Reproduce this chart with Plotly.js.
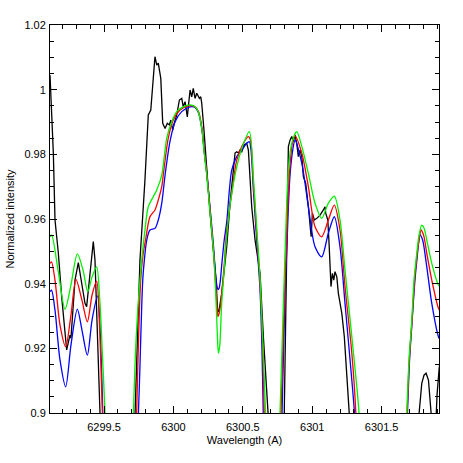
<!DOCTYPE html>
<html>
<head>
<meta charset="utf-8">
<script src="https://cdn.plot.ly/plotly-3.0.1.min.js"></script>
<style>
  html, body { margin: 0; padding: 0; background: white; }
  #spectrum { width: 463px; height: 463px; }
</style>
</head>
<body>
<div id="spectrum"></div>
<script>
// Observed spectrum (black), null = break where it leaves the plot
let obsWave = [
6299.111, 6299.118, 6299.130, 6299.135, 6299.147, 6299.171, 6299.195, 6299.219, 6299.231, 6299.255,
6299.262, 6299.291, 6299.315, 6299.363, 6299.375, 6299.423, 6299.435, 6299.474, null,
6299.721, 6299.759, 6299.795, 6299.819, 6299.837, 6299.851, 6299.867, 6299.880, 6299.891, 6299.909,
6299.923, 6299.940, 6299.956, 6299.971, 6299.981, 6299.995, 6300.004, 6300.024, 6300.043, 6300.060,
6300.071, 6300.084, 6300.100, 6300.120, 6300.132, 6300.143, 6300.156, 6300.168, 6300.187, 6300.197,
6300.204, 6300.221, 6300.235, 6300.246, 6300.264, 6300.288, 6300.307, 6300.319, 6300.329, 6300.348,
6300.384, 6300.408, 6300.444, 6300.456, 6300.468, 6300.480, 6300.492, 6300.509, 6300.528, 6300.540,
6300.552, 6300.564, 6300.588, 6300.612, 6300.624, 6300.648, 6300.672, 6300.687, null,
6300.797, 6300.811, 6300.828, 6300.840, 6300.852, 6300.864, 6300.876, 6300.888, 6300.900, 6300.912,
6300.925, 6300.936, 6300.953, 6300.972, 6300.984, 6300.992, 6301.001, 6301.015, 6301.033, 6301.056,
6301.080, 6301.092, 6301.097, 6301.112, 6301.121, 6301.135, 6301.145, 6301.155, 6301.164, 6301.177,
6301.188, 6301.213, 6301.231, 6301.249, 6301.260, 6301.272, null,
6301.762, 6301.789, 6301.805, 6301.820, 6301.837, 6301.849, 6301.863, null,
6301.890, 6301.899, 6301.913, 6301.925
];
let obsFlux = [
1.0045, 0.9959, 0.9875, 0.9804, 0.9597, 0.9495, 0.9360, 0.9236, 0.9195, 0.9241,
0.9231, 0.9411, 0.9465, 0.9339, 0.9329, 0.9530, 0.9473, 0.8963, null,
0.8963, 0.9473, 0.9721, 0.9922, 0.9937, 1.0014, 1.0102, 1.0076, 1.0082, 1.0035,
0.9896, 0.9880, 0.9896, 0.9891, 0.9906, 0.9875, 0.9893, 0.9922, 0.9968, 0.9973,
0.9947, 0.9963, 0.9916, 0.9999, 0.9978, 1.0004, 0.9973, 0.9989, 0.9973, 0.9978,
0.9958, 0.9870, 0.9798, 0.9721, 0.9619, 0.9514, 0.9411, 0.9312, 0.9318, 0.9370,
0.9514, 0.9649, 0.9804, 0.9808, 0.9804, 0.9813, 0.9808, 0.9829, 0.9834, 0.9813,
0.9731, 0.9638, 0.9535, 0.9473, 0.9432, 0.9236, 0.9081, 0.8963, null,
0.8963, 0.9349, 0.9824, 0.9844, 0.9855, 0.9839, 0.9860, 0.9834, 0.9793, 0.9813,
0.9793, 0.9731, 0.9710, 0.9638, 0.9576, 0.9545, 0.9618, 0.9597, 0.9602, 0.9612,
0.9628, 0.9638, 0.9618, 0.9597, 0.9525, 0.9391, 0.9432, 0.9411, 0.9437, 0.9421,
0.9370, 0.9308, 0.9236, 0.9133, 0.9061, 0.8963, null,
0.8963, 0.9092, 0.9117, 0.9123, 0.9102, 0.9040, 0.8963, null,
0.8963, 0.9056, 0.9133, 0.9180
];

// Synthetic spectrum, green
let greenWave = [
6299.111, 6299.123, 6299.169, 6299.219, 6299.262, 6299.308, 6299.349, 6299.383, 6299.414, 6299.447,
6299.471, 6299.488, 6299.507, 6299.511, null,
6299.709, 6299.731, 6299.759, 6299.795, 6299.819, 6299.855, 6299.880, 6299.916, 6299.952, 6299.988,
6300.024, 6300.071, 6300.120, 6300.156, 6300.179, 6300.204, 6300.221, 6300.240, 6300.264, 6300.288,
6300.304, 6300.315, 6300.324, 6300.334, 6300.347, 6300.360, 6300.384, 6300.408, 6300.451, 6300.494,
6300.547, 6300.576, 6300.600, 6300.624, 6300.643, 6300.664, 6300.667, null,
6300.765, 6300.782, 6300.804, 6300.828, 6300.852, 6300.888, 6300.925, 6300.972, 6301.020, 6301.068,
6301.116, 6301.159, 6301.200, 6301.236, 6301.285, 6301.321, 6301.337, 6301.340, null,
6301.678, 6301.697, 6301.717, 6301.733, 6301.753, 6301.769, 6301.789, 6301.805, 6301.825, 6301.861,
6301.909, 6301.921
];
let greenFlux = [
0.9545, 0.9550, 0.9442, 0.9321, 0.9396, 0.9492, 0.9442, 0.9375, 0.9421, 0.9452,
0.9339, 0.9185, 0.9004, 0.8947, null,
0.8963, 0.9226, 0.9411, 0.9566, 0.9638, 0.9669, 0.9690, 0.9736, 0.9850, 0.9901,
0.9932, 0.9947, 0.9953, 0.9947, 0.9932, 0.9880, 0.9808, 0.9736, 0.9619, 0.9504,
0.9380, 0.9257, 0.9185, 0.9210, 0.9334, 0.9411, 0.9550, 0.9643, 0.9751, 0.9820,
0.9870, 0.9727, 0.9572, 0.9417, 0.9226, 0.9000, 0.8963, null,
0.8963, 0.9195, 0.9495, 0.9751, 0.9834, 0.9870, 0.9824, 0.9741, 0.9649, 0.9602,
0.9649, 0.9671, 0.9597, 0.9442, 0.9236, 0.9081, 0.9000, 0.8963, null,
0.8963, 0.9164, 0.9288, 0.9411, 0.9494, 0.9550, 0.9581, 0.9572, 0.9535, 0.9463,
0.9396, 0.9390
];

// Synthetic spectrum, red
let redWave = [
6299.111, 6299.122, 6299.147, 6299.183, 6299.224, 6299.262, 6299.298, 6299.341, 6299.380, 6299.414,
6299.447, 6299.466, 6299.488, 6299.491, null,
6299.733, 6299.741, 6299.764, 6299.781, 6299.803, 6299.831, 6299.867, 6299.891, 6299.916, 6299.927,
6299.963, 6299.999, 6300.048, 6300.107, 6300.148, 6300.179, 6300.204, 6300.221, 6300.240, 6300.264,
6300.288, 6300.304, 6300.315, 6300.321, 6300.330, 6300.339, 6300.350, 6300.366, 6300.384, 6300.420,
6300.456, 6300.494, 6300.540, 6300.555, 6300.576, 6300.600, 6300.624, 6300.643, 6300.654, 6300.657, null,
6300.772, 6300.790, 6300.811, 6300.833, 6300.855, 6300.876, 6300.925, 6300.972, 6301.020, 6301.068,
6301.116, 6301.159, 6301.200, 6301.236, 6301.285, 6301.314, 6301.316, null,
6301.680, 6301.699, 6301.719, 6301.736, 6301.755, 6301.773, 6301.784, 6301.802, 6301.825, 6301.861,
6301.909, 6301.921
];
let redFlux = [
0.9463, 0.9467, 0.9411, 0.9272, 0.9205, 0.9303, 0.9413, 0.9349, 0.9282, 0.9365,
0.9408, 0.9288, 0.9004, 0.8963, null,
0.8963, 0.9102, 0.9411, 0.9489, 0.9545, 0.9607, 0.9628, 0.9659, 0.9700, 0.9736,
0.9850, 0.9906, 0.9937, 0.9950, 0.9949, 0.9934, 0.9885, 0.9813, 0.9742, 0.9628,
0.9504, 0.9396, 0.9325, 0.9298, 0.9309, 0.9334, 0.9380, 0.9458, 0.9566, 0.9680,
0.9782, 0.9826, 0.9855, 0.9844, 0.9711, 0.9557, 0.9402, 0.9201, 0.9000, 0.8963, null,
0.8963, 0.9226, 0.9489, 0.9721, 0.9829, 0.9857, 0.9803, 0.9700, 0.9576, 0.9545,
0.9597, 0.9643, 0.9566, 0.9391, 0.9185, 0.9000, 0.8963, null,
0.8963, 0.9164, 0.9288, 0.9405, 0.9489, 0.9544, 0.9566, 0.9550, 0.9494, 0.9411,
0.9324, 0.9315
];

// Synthetic spectrum, blue
let blueWave = [
6299.111, 6299.122, 6299.147, 6299.183, 6299.224, 6299.262, 6299.308, 6299.341, 6299.380, 6299.414,
6299.454, 6299.471, 6299.491, 6299.493, null,
6299.745, 6299.756, 6299.779, 6299.792, 6299.808, 6299.831, 6299.867, 6299.891, 6299.916, 6299.940,
6299.975, 6300.012, 6300.060, 6300.120, 6300.156, 6300.181, 6300.206, 6300.223, 6300.242, 6300.264,
6300.288, 6300.304, 6300.315, 6300.321, 6300.329, 6300.336, 6300.350, 6300.366, 6300.384, 6300.420,
6300.456, 6300.492, 6300.528, 6300.547, 6300.559, 6300.576, 6300.600, 6300.624, 6300.638, 6300.647, 6300.649, null,
6300.780, 6300.797, 6300.804, 6300.819, 6300.840, 6300.862, 6300.876, 6300.925, 6300.972, 6301.020,
6301.068, 6301.116, 6301.159, 6301.200, 6301.236, 6301.285, 6301.304, 6301.306, null,
6301.683, 6301.701, 6301.720, 6301.737, 6301.755, 6301.777, 6301.795, 6301.825, 6301.861, 6301.909,
6301.921
];
let blueFlux = [
0.9375, 0.9380, 0.9318, 0.9164, 0.9081, 0.9210, 0.9321, 0.9257, 0.9179, 0.9288,
0.9362, 0.9267, 0.9004, 0.8963, null,
0.8963, 0.9102, 0.9411, 0.9479, 0.9535, 0.9566, 0.9571, 0.9597, 0.9649, 0.9736,
0.9839, 0.9901, 0.9932, 0.9947, 0.9945, 0.9928, 0.9875, 0.9804, 0.9733, 0.9634,
0.9520, 0.9427, 0.9390, 0.9382, 0.9386, 0.9402, 0.9467, 0.9535, 0.9591, 0.9751,
0.9793, 0.9813, 0.9834, 0.9839, 0.9813, 0.9690, 0.9535, 0.9380, 0.9195, 0.9000, 0.8963, null,
0.8963, 0.9257, 0.9371, 0.9535, 0.9736, 0.9820, 0.9844, 0.9772, 0.9638, 0.9514,
0.9483, 0.9556, 0.9607, 0.9514, 0.9339, 0.9102, 0.9000, 0.8963, null,
0.8963, 0.9164, 0.9288, 0.9396, 0.9479, 0.9550, 0.9535, 0.9452, 0.9339, 0.9236,
0.9226
];

let fontFamily = "Liberation Sans, Arial, sans-serif";

function modelTrace(x, y, color) {
  return {
    x: x, y: y,
    type: "scatter", mode: "lines",
    line: { color: color, width: 1.3, shape: "spline", smoothing: 0.8 },
    connectgaps: false,
    hoverinfo: "skip"
  };
}

let obsTrace = {
  x: obsWave, y: obsFlux,
  type: "scatter", mode: "lines",
  line: { color: "black", width: 1.3 },
  connectgaps: false,
  hoverinfo: "skip"
};

let data = [
  obsTrace,
  modelTrace(blueWave, blueFlux, "#0000ff"),
  modelTrace(redWave, redFlux, "#ff0000"),
  modelTrace(greenWave, greenFlux, "#00f000")
];

let axisCommon = {
  showline: true, linecolor: "black", linewidth: 1,
  mirror: "allticks",
  ticks: "inside", ticklen: 7, tickwidth: 1, tickcolor: "black",
  showgrid: false, zeroline: false,
  tickfont: { family: fontFamily, size: 11, color: "black" }
};

let layout = {
  width: 463, height: 463,
  margin: { l: 50, r: 24, t: 25, b: 50 },
  showlegend: false,
  paper_bgcolor: "white",
  plot_bgcolor: "white",
  xaxis: Object.assign({}, axisCommon, {
    range: [6299.111, 6301.913],
    tick0: 6299.5, dtick: 0.5,
    tickformat: ".1~f",
    ticklabelstandoff: 4,
    minor: { dtick: 0.1, ticks: "inside", ticklen: 4, tickcolor: "black", showgrid: false },
    title: { text: "Wavelength (A)", font: { family: fontFamily, size: 11, color: "black" }, standoff: 4 }
  }),
  yaxis: Object.assign({}, axisCommon, {
    range: [0.9, 1.02],
    tick0: 0.9, dtick: 0.02,
    ticklabelstandoff: 1,
    minor: { dtick: 0.005, ticks: "inside", ticklen: 4, tickcolor: "black", showgrid: false },
    title: { text: "Normalized intensity", font: { family: fontFamily, size: 11, color: "black" }, standoff: 7 }
  })
};

Plotly.newPlot("spectrum", data, layout, { displayModeBar: false, staticPlot: true });
</script>
</body>
</html>
